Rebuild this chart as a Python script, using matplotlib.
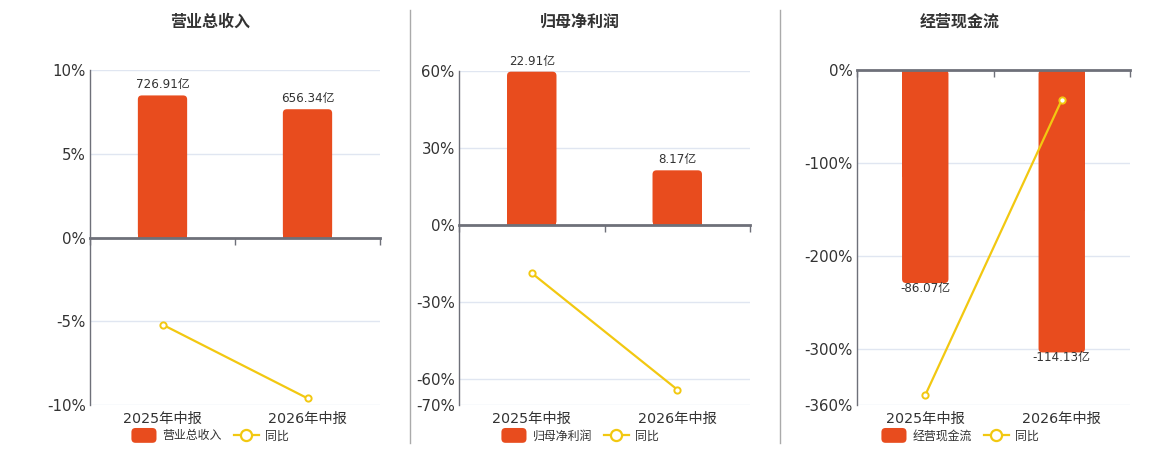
import matplotlib
matplotlib.use('Agg')
import matplotlib.pyplot as plt
from matplotlib.patches import FancyBboxPatch, Rectangle, Patch
from matplotlib.lines import Line2D
from matplotlib.legend_handler import HandlerPatch

plt.rcParams['font.family'] = ['DejaVu Sans', 'Noto Sans CJK SC']

# data
periods = ['2025年中报', '2026年中报']
titles = ['营业总收入', '归母净利润', '经营现金流']
values = [[726.91, 656.34], [22.91, 8.17], [-86.07, -114.13]]   # 亿
yoy = [[-5.2, -9.6], [-18.7, -64.0], [-349.4, -32.1]]            # %
pct_ticks = [[-10, -5, 0, 5, 10], [-70, -60, -30, 0, 30, 60], [-360, -300, -200, -100, 0]]
pct_lims = [(-10, 10), (-70, 60), (-360, 0)]
bar_scale = [85.7, 0.3843, 0.376]  # 亿 per 1% on the hidden bar axis

BAR = '#e84c1e'
LINE = '#f2c811'
AXIS = '#6e7079'
GRID = '#e0e6f1'
TXT = '#333333'

W, H = 1160, 450
# axes boxes in pixels: left, top, right, bottom
boxes = [(90, 70, 380, 405), (459, 70.7, 750, 405), (857, 70, 1130, 405)]
title_x = [210, 580, 960]
legend_x = [210, 580, 960]


def round_bars(fig, ax, bars, radius_px=4):
    pos = ax.get_position()
    wpx = pos.width * fig.get_figwidth() * fig.dpi
    hpx = pos.height * fig.get_figheight() * fig.dpi
    x0, x1 = ax.get_xlim()
    y0, y1 = ax.get_ylim()
    xpp = (x1 - x0) / wpx
    ypp = (y1 - y0) / hpx
    r = radius_px * xpp
    for rect in bars:
        x, y, w, h = rect.get_x(), rect.get_y(), rect.get_width(), rect.get_height()
        yb = min(y, y + h)
        hh = abs(h)
        rect.set_visible(False)
        ax.add_patch(FancyBboxPatch((x, yb), w, hh, boxstyle='round,pad=0,rounding_size=%f' % r,
                                    mutation_aspect=ypp / xpp, fc=BAR, ec='none'))
        # keep the base corners square
        if h >= 0:
            ax.add_patch(Rectangle((x, 0), w, hh / 2, fc=BAR, ec='none'))
        else:
            ax.add_patch(Rectangle((x, -hh / 2), w, hh / 2, fc=BAR, ec='none'))


def rounded_handle(legend, orig_handle, xdescent, ydescent, width, height, fontsize):
    return FancyBboxPatch((-xdescent, -ydescent - 1.5), width, height + 3,
                          boxstyle='round,pad=0,rounding_size=3')


fig = plt.figure(figsize=(W / 100, H / 100), dpi=100)

for i in range(3):
    l, t, r, b = boxes[i]
    ax = fig.add_axes([l / W, 1 - b / H, (r - l) / W, (b - t) / H])
    ax_b = ax.twinx()
    ax_l = ax.twinx()
    xs = list(range(len(periods)))

    # host axis: percent ticks and grid
    ax.set_xlim(-0.5, 1.5)
    ax.set_ylim(*pct_lims[i])
    ax.set_yticks(pct_ticks[i])
    ax.set_yticklabels(['%d%%' % v for v in pct_ticks[i]])
    ax.set_xticks(xs)
    ax.set_xticklabels(periods)
    ax.tick_params(axis='y', length=0, pad=3, labelsize=10.8, labelcolor=TXT)
    ax.tick_params(axis='x', length=0, pad=5, labelsize=10.3, labelcolor=TXT)
    for v in pct_ticks[i]:
        if v != 0:
            ax.axhline(v, color=GRID, lw=1, zorder=0)
    for s in ['top', 'right', 'bottom']:
        ax.spines[s].set_visible(False)
    ax.spines['left'].set_color(AXIS)
    ax.spines['left'].set_linewidth(1)

    # bars on hidden axis
    lo, hi = pct_lims[i]
    ax_b.set_ylim(lo * bar_scale[i], hi * bar_scale[i])
    ax_b.yaxis.set_visible(False)
    for s in ax_b.spines.values():
        s.set_visible(False)
    bars = ax_b.bar(xs, values[i], width=0.34, color=BAR)
    round_bars(fig, ax_b, bars)
    for x, v in zip(xs, values[i]):
        if v >= 0:
            ax_b.annotate('%.2f亿' % v, (x, v), xytext=(0, 3), textcoords='offset points',
                          ha='center', va='bottom', fontsize=8.6, color=TXT)
        else:
            ax_b.annotate('%.2f亿' % v, (x, v), xytext=(0, 1), textcoords='offset points',
                          ha='center', va='top', fontsize=8.6, color=TXT)

    # yoy line and zero axis on top
    ax_l.set_ylim(*pct_lims[i])
    ax_l.yaxis.set_visible(False)
    for s in ax_l.spines.values():
        s.set_visible(False)
    ax_l.axhline(0, color=AXIS, lw=2, clip_on=False, zorder=3)
    ax_l.plot([-0.5, 0.5, 1.5], [0, 0, 0], ls='none', marker=3, ms=5, mew=1, color=AXIS,
              clip_on=False, zorder=3)
    ax_l.plot(xs, yoy[i], color=LINE, lw=1.6, marker='o', ms=4.5, mfc='white', mec=LINE, mew=1.4,
              zorder=5, clip_on=False)

    fig.text(title_x[i] / W, 1 - 22 / H, titles[i], ha='center', va='center', fontsize=11.5,
             fontweight='bold', color=TXT)

    handles = [Patch(facecolor=BAR, edgecolor='none'),
               Line2D([], [], color=LINE, lw=1.6, marker='o', ms=8, mfc='white', mec=LINE, mew=1.6)]
    fig.legend(handles, [titles[i], '同比'], loc='center', bbox_to_anchor=(legend_x[i] / W, 1 - 436 / H),
               ncol=2, frameon=False, fontsize=8.6, handlelength=2.1, handleheight=1.0,
               handletextpad=0.5, columnspacing=1.0, labelcolor=TXT,
               handler_map={Patch: HandlerPatch(patch_func=rounded_handle)})

# panel separators
for xp in [410, 780]:
    fig.add_artist(Line2D([xp / W, xp / W], [1 - 10 / H, 1 - 443 / H], color='#aaaaaa', lw=1))

fig.savefig('out.png', dpi=100)
